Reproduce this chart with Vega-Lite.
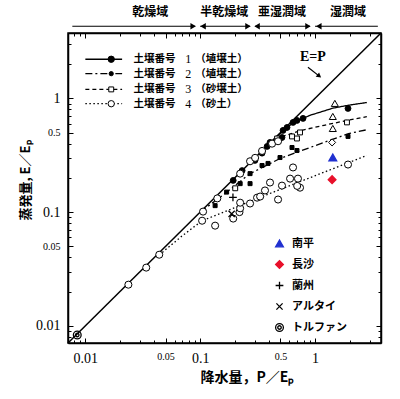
{
  "$schema": "https://vega.github.io/schema/vega-lite/v6.json",
  "width": 313,
  "height": 310,
  "autosize": {"type": "none"},
  "padding": {"left": 68, "top": 33, "right": 19, "bottom": 56},
  "background": "white",
  "config": {
    "view": {"stroke": "black", "strokeWidth": 1.5},
    "axis": {"grid": false, "domainColor": "black", "domainWidth": 1.5, "tickColor": "black", "tickWidth": 1, "labelColor": "black", "titleColor": "black", "labelFont": "Liberation Serif"}
  },
  "datasets": {
    "diag": [{"x": 0.00706, "y": 0.00706}, {"x": 3.76, "y": 3.76}],
    "curves": [
      {"c": "1", "g": "c", "x": 0.45, "y": 0.45}, {"c": "1", "g": "c", "x": 0.644, "y": 0.61}, {"c": "1", "g": "c", "x": 0.905, "y": 0.71}, {"c": "1", "g": "c", "x": 1.43, "y": 0.82}, {"c": "1", "g": "c", "x": 1.94, "y": 0.87}, {"c": "1", "g": "c", "x": 2.83, "y": 0.92},
      {"c": "2", "g": "c", "x": 0.1, "y": 0.1}, {"c": "2", "g": "c", "x": 0.165, "y": 0.146}, {"c": "2", "g": "c", "x": 0.272, "y": 0.218}, {"c": "2", "g": "c", "x": 0.496, "y": 0.296}, {"c": "2", "g": "c", "x": 0.905, "y": 0.37}, {"c": "2", "g": "c", "x": 1.96, "y": 0.49}, {"c": "2", "g": "c", "x": 2.83, "y": 0.53},
      {"c": "3", "g": "c", "x": 0.45, "y": 0.44}, {"c": "3", "g": "c", "x": 0.74, "y": 0.52}, {"c": "3", "g": "c", "x": 1.2, "y": 0.58}, {"c": "3", "g": "c", "x": 1.9, "y": 0.64}, {"c": "3", "g": "c", "x": 2.83, "y": 0.69},
      {"c": "4", "g": "c", "x": 0.044, "y": 0.042}, {"c": "4", "g": "c", "x": 0.07, "y": 0.062}, {"c": "4", "g": "c", "x": 0.104, "y": 0.084}, {"c": "4", "g": "c", "x": 0.527, "y": 0.162}, {"c": "4", "g": "c", "x": 2.83, "y": 0.315},
      {"c": "1", "g": "l", "x": 0.01, "y": 2.21}, {"c": "1", "g": "l", "x": 0.0209, "y": 2.21},
      {"c": "2", "g": "l", "x": 0.01, "y": 1.65}, {"c": "2", "g": "l", "x": 0.0209, "y": 1.65},
      {"c": "3", "g": "l", "x": 0.01, "y": 1.2}, {"c": "3", "g": "l", "x": 0.0209, "y": 1.2},
      {"c": "4", "g": "l", "x": 0.01, "y": 0.898}, {"c": "4", "g": "l", "x": 0.0209, "y": 0.898}
    ],
    "pts": [
      {"s": "1", "x": 0.194, "y": 0.19}, {"s": "1", "x": 0.232, "y": 0.232}, {"s": "1", "x": 0.3, "y": 0.285}, {"s": "1", "x": 0.346, "y": 0.33}, {"s": "1", "x": 0.383, "y": 0.378}, {"s": "1", "x": 0.406, "y": 0.41}, {"s": "1", "x": 0.516, "y": 0.453}, {"s": "1", "x": 0.527, "y": 0.523}, {"s": "1", "x": 0.571, "y": 0.555}, {"s": "1", "x": 0.644, "y": 0.615}, {"s": "1", "x": 0.697, "y": 0.64}, {"s": "1", "x": 0.787, "y": 0.667}, {"s": "1", "x": 1.94, "y": 0.816},
      {"s": "2", "x": 0.135, "y": 0.114}, {"s": "2", "x": 0.17, "y": 0.15}, {"s": "2", "x": 0.223, "y": 0.178}, {"s": "2", "x": 0.272, "y": 0.178}, {"s": "2", "x": 0.272, "y": 0.218}, {"s": "2", "x": 0.346, "y": 0.257}, {"s": "2", "x": 0.39, "y": 0.268}, {"s": "2", "x": 0.496, "y": 0.302}, {"s": "2", "x": 0.631, "y": 0.37}, {"s": "2", "x": 0.697, "y": 0.348}, {"s": "2", "x": 1.94, "y": 0.463},
      {"s": "3", "x": 0.202, "y": 0.162}, {"s": "3", "x": 0.468, "y": 0.444}, {"s": "3", "x": 0.631, "y": 0.463}, {"s": "3", "x": 0.697, "y": 0.444}, {"s": "3", "x": 0.741, "y": 0.502}, {"s": "3", "x": 1.9, "y": 0.615},
      {"s": "4", "x": 0.0237, "y": 0.023}, {"s": "4", "x": 0.0339, "y": 0.0325}, {"s": "4", "x": 0.044, "y": 0.0422}, {"s": "4", "x": 0.106, "y": 0.101}, {"s": "4", "x": 0.141, "y": 0.132}, {"s": "4", "x": 0.223, "y": 0.218}, {"s": "4", "x": 0.272, "y": 0.28}, {"s": "4", "x": 0.301, "y": 0.3}, {"s": "4", "x": 0.346, "y": 0.345}, {"s": "4", "x": 0.423, "y": 0.4}, {"s": "4", "x": 0.477, "y": 0.42},
      {"s": "4", "x": 0.104, "y": 0.084}, {"s": "4", "x": 0.135, "y": 0.076}, {"s": "4", "x": 0.194, "y": 0.0877}, {"s": "4", "x": 0.22, "y": 0.1}, {"s": "4", "x": 0.223, "y": 0.108}, {"s": "4", "x": 0.223, "y": 0.121}, {"s": "4", "x": 0.272, "y": 0.119}, {"s": "4", "x": 0.313, "y": 0.134}, {"s": "4", "x": 0.333, "y": 0.137}, {"s": "4", "x": 0.367, "y": 0.155}, {"s": "4", "x": 0.406, "y": 0.182}, {"s": "4", "x": 0.477, "y": 0.129}, {"s": "4", "x": 0.516, "y": 0.171}, {"s": "4", "x": 0.607, "y": 0.197}, {"s": "4", "x": 0.644, "y": 0.247}, {"s": "4", "x": 0.711, "y": 0.197}, {"s": "4", "x": 0.741, "y": 0.164}, {"s": "4", "x": 0.7, "y": 0.17}, {"s": "4", "x": 1.94, "y": 0.262},
      {"s": "tri", "x": 1.49, "y": 0.904}, {"s": "tri", "x": 1.43, "y": 0.694}, {"s": "tri", "x": 1.43, "y": 0.544}, {"s": "dia", "x": 1.41, "y": 0.41}
    ],
    "legm": [
      {"s": "1", "x": 0.0168, "y": 2.21}, {"s": "2", "x": 0.0168, "y": 1.65}, {"s": "3", "x": 0.0168, "y": 1.2}, {"s": "4", "x": 0.0168, "y": 0.898}
    ],
    "sites": [
      {"site": "南平", "x": 1.43, "y": 0.302}, {"site": "長沙", "x": 1.41, "y": 0.193}, {"site": "蘭州", "x": 0.193, "y": 0.135}, {"site": "アルタイ", "x": 0.188, "y": 0.0965}, {"site": "トルファン", "x": 0.0085, "y": 0.0083}
    ],
    "ann": [
      {"k": "soil", "t": "土壌番号", "x": 0.0263, "y": 2.21}, {"k": "soil", "t": "土壌番号", "x": 0.0263, "y": 1.65}, {"k": "soil", "t": "土壌番号", "x": 0.0263, "y": 1.2}, {"k": "soil", "t": "土壌番号", "x": 0.0263, "y": 0.898},
      {"k": "num", "t": "1", "x": 0.0741, "y": 2.21}, {"k": "num", "t": "2", "x": 0.0741, "y": 1.65}, {"k": "num", "t": "3", "x": 0.0741, "y": 1.2}, {"k": "num", "t": "4", "x": 0.0741, "y": 0.898},
      {"k": "paren", "t": "（埴壌土）", "x": 0.0905, "y": 2.21}, {"k": "paren", "t": "（埴壌土）", "x": 0.0905, "y": 1.65}, {"k": "paren", "t": "（砂壌土）", "x": 0.0905, "y": 1.2}, {"k": "paren", "t": "（砂土）", "x": 0.0905, "y": 0.898},
      {"k": "region", "t": "乾燥域", "x": 0.0367, "y": 5.72}, {"k": "region", "t": "半乾燥域", "x": 0.162, "y": 5.72}, {"k": "region", "t": "亜湿潤域", "x": 0.516, "y": 5.72}, {"k": "region", "t": "湿潤域", "x": 1.94, "y": 5.72},
      {"k": "ep", "t": "E=P", "x": 0.96, "y": 2.3}
    ],
    "arr": [
      {"x": 0.0077, "x2": 0.0905, "y": 4.31}, {"x": 0.1, "x2": 0.272, "y": 4.31}, {"x": 0.301, "x2": 0.905, "y": 4.31}, {"x": 1.0, "x2": 3.53, "y": 4.31}
    ],
    "heads": [
      {"d": "r", "x": 0.0869, "y": 4.31}, {"d": "r", "x": 0.261, "y": 4.31}, {"d": "r", "x": 0.869, "y": 4.31},
      {"d": "l", "x": 0.106, "y": 4.31}, {"d": "l", "x": 0.313, "y": 4.31}, {"d": "l", "x": 1.08, "y": 4.31}
    ],
    "eparr": [{"x": 0.869, "y": 1.88}, {"x": 1.09, "y": 1.57}],
    "ephead": [{"x": 1.09, "y": 1.57}]
  },
  "resolve": {
    "scale": {"shape": "independent", "fill": "independent", "size": "independent", "stroke": "independent", "strokeDash": "independent"},
    "axis": {"x": "independent", "y": "independent"}
  },
  "layer": [
    {
      "data": {"name": "diag"},
      "mark": {"type": "line", "color": "black", "strokeWidth": 1.5},
      "encoding": {
        "x": {"field": "x", "type": "quantitative", "scale": {"type": "log", "domain": [0.00706, 3.76], "nice": false, "zero": false},
          "axis": {"orient": "bottom",
            "values": [0.008, 0.009, 0.01, 0.02, 0.03, 0.04, 0.05, 0.06, 0.07, 0.08, 0.09, 0.1, 0.2, 0.3, 0.4, 0.5, 0.6, 0.7, 0.8, 0.9, 1, 2, 3],
            "labelExpr": "datum.value == 0.01 ? '0.01' : datum.value == 0.05 ? '0.05' : datum.value == 0.1 ? '0.1' : datum.value == 0.5 ? '0.5' : datum.value == 1 ? '1' : ''",
            "labelFontSize": {"condition": {"test": "datum.value == 0.05 || datum.value == 0.5", "value": 10}, "value": 14},
            "tickSize": {"condition": {"test": "datum.value == 0.01 || datum.value == 0.05 || datum.value == 0.1 || datum.value == 0.5 || datum.value == 1", "value": -5}, "value": -3},
            "labelPadding": 13, "labelOverlap": false, "labelFlush": false, "labelBound": false,
            "title": "降水量，P／Eₚ", "titleFont": "Noto Sans CJK JP", "titleFontSize": 14, "titleFontWeight": "bold",
            "titleX": 179, "titleY": 27, "titleBaseline": "top", "titleAlign": "center"}},
        "y": {"field": "y", "type": "quantitative", "scale": {"type": "log", "domain": [0.00706, 3.76], "nice": false, "zero": false},
          "axis": {"orient": "left",
            "values": [0.008, 0.009, 0.01, 0.02, 0.03, 0.04, 0.05, 0.06, 0.07, 0.08, 0.09, 0.1, 0.2, 0.3, 0.4, 0.5, 0.6, 0.7, 0.8, 0.9, 1, 2, 3],
            "labelExpr": "datum.value == 0.01 ? '0.01' : datum.value == 0.05 ? '0.05' : datum.value == 0.1 ? '0.1' : datum.value == 0.5 ? '0.5' : datum.value == 1 ? '1' : ''",
            "labelFontSize": {"condition": {"test": "datum.value == 0.05 || datum.value == 0.5", "value": 10}, "value": 14},
            "tickSize": {"condition": {"test": "datum.value == 0.01 || datum.value == 0.05 || datum.value == 0.1 || datum.value == 0.5 || datum.value == 1", "value": -5}, "value": -3},
            "labelPadding": 13, "labelOverlap": false, "labelFlush": false, "labelBound": false,
            "title": "蒸発量, E／Eₚ", "titleFont": "Noto Sans CJK JP", "titleFontSize": 13, "titleFontWeight": "bold",
            "titleAngle": 270, "titleX": -43, "titleY": 147, "titleBaseline": "middle", "titleAlign": "center"}}
      }
    },
    {
      "data": {"name": "diag"},
      "mark": {"type": "point", "opacity": 0},
      "encoding": {
        "x": {"field": "x", "type": "quantitative", "scale": {"type": "log", "domain": [0.00706, 3.76], "nice": false, "zero": false},
          "axis": {"orient": "top", "labels": false, "title": null,
            "values": [0.008, 0.009, 0.01, 0.02, 0.03, 0.04, 0.05, 0.06, 0.07, 0.08, 0.09, 0.1, 0.2, 0.3, 0.4, 0.5, 0.6, 0.7, 0.8, 0.9, 1, 2, 3],
            "tickSize": {"condition": {"test": "datum.value == 0.01 || datum.value == 0.05 || datum.value == 0.1 || datum.value == 0.5 || datum.value == 1", "value": -5}, "value": -3}}},
        "y": {"field": "y", "type": "quantitative", "scale": {"type": "log", "domain": [0.00706, 3.76], "nice": false, "zero": false},
          "axis": {"orient": "right", "labels": false, "title": null,
            "values": [0.008, 0.009, 0.01, 0.02, 0.03, 0.04, 0.05, 0.06, 0.07, 0.08, 0.09, 0.1, 0.2, 0.3, 0.4, 0.5, 0.6, 0.7, 0.8, 0.9, 1, 2, 3],
            "tickSize": {"condition": {"test": "datum.value == 0.01 || datum.value == 0.05 || datum.value == 0.1 || datum.value == 0.5 || datum.value == 1", "value": -5}, "value": -3}}}
      }
    },
    {
      "data": {"name": "curves"},
      "mark": {"type": "line", "color": "black", "strokeWidth": 1.3},
      "encoding": {
        "x": {"field": "x", "type": "quantitative", "axis": null},
        "y": {"field": "y", "type": "quantitative", "axis": null},
        "detail": {"field": "g"},
        "strokeDash": {"field": "c", "type": "nominal", "scale": {"domain": ["1", "2", "3", "4"], "range": [[1, 0], [7, 3, 2, 3], [4, 3], [1.5, 2.5]]}, "legend": null}
      }
    },
    {
      "data": {"name": "pts"},
      "mark": {"type": "point", "filled": true, "stroke": "black", "strokeWidth": 1, "opacity": 1},
      "encoding": {
        "x": {"field": "x", "type": "quantitative", "axis": null},
        "y": {"field": "y", "type": "quantitative", "axis": null},
        "shape": {"field": "s", "type": "nominal", "scale": {"type": "ordinal", "domain": ["1", "2", "3", "4", "tri", "dia"], "range": ["circle", "square", "square", "circle", "triangle-up", "diamond"]}, "legend": null},
        "fill": {"field": "s", "type": "nominal", "scale": {"type": "ordinal", "domain": ["1", "2", "3", "4", "tri", "dia"], "range": ["black", "black", "white", "white", "white", "white"]}, "legend": null},
        "size": {"field": "s", "type": "nominal", "scale": {"type": "ordinal", "domain": ["1", "2", "3", "4", "tri", "dia"], "range": [34, 16, 24, 50, 50, 50]}, "legend": null}
      }
    },
    {
      "data": {"name": "legm"},
      "mark": {"type": "point", "filled": true, "stroke": "black", "strokeWidth": 1, "opacity": 1},
      "encoding": {
        "x": {"field": "x", "type": "quantitative", "axis": null},
        "y": {"field": "y", "type": "quantitative", "axis": null},
        "shape": {"field": "s", "type": "nominal", "scale": {"type": "ordinal", "domain": ["1", "2", "3", "4"], "range": ["circle", "circle", "square", "circle"]}, "legend": null},
        "fill": {"field": "s", "type": "nominal", "scale": {"type": "ordinal", "domain": ["1", "2", "3", "4"], "range": ["black", "black", "white", "white"]}, "legend": null},
        "size": {"field": "s", "type": "nominal", "scale": {"type": "ordinal", "domain": ["1", "2", "3", "4"], "range": [40, 18, 24, 40]}, "legend": null}
      }
    },
    {
      "data": {"name": "sites"},
      "mark": {"type": "point", "filled": true, "size": 60, "strokeWidth": 1.3, "opacity": 1},
      "encoding": {
        "x": {"field": "x", "type": "quantitative", "axis": null},
        "y": {"field": "y", "type": "quantitative", "axis": null},
        "shape": {"field": "site", "type": "nominal", "title": null,
          "scale": {"domain": ["南平", "長沙", "蘭州", "アルタイ", "トルファン"], "range": ["triangle-up", "diamond", "M-1,0H1M0,-1V1", "M-0.8,-0.8L0.8,0.8M-0.8,0.8L0.8,-0.8", "M-1,0A1,1 0 1,0 1,0A1,1 0 1,0 -1,0ZM-0.45,0A0.45,0.45 0 1,0 0.45,0A0.45,0.45 0 1,0 -0.45,0Z"]},
          "legend": {"orient": "none", "legendX": 206, "legendY": 205, "padding": 0, "symbolSize": 60, "symbolStrokeWidth": 1.3, "labelFont": "Noto Sans CJK JP", "labelFontSize": 11, "labelFontWeight": "bold", "labelColor": "black", "labelOffset": 7, "rowPadding": 8}},
        "fill": {"field": "site", "type": "nominal", "title": null,
          "scale": {"domain": ["南平", "長沙", "蘭州", "アルタイ", "トルファン"], "range": ["#2030d0", "#e8102a", "transparent", "transparent", "transparent"]}},
        "stroke": {"field": "site", "type": "nominal", "title": null,
          "scale": {"domain": ["南平", "長沙", "蘭州", "アルタイ", "トルファン"], "range": ["#2030d0", "#e8102a", "black", "black", "black"]}}
      }
    },
    {
      "data": {"name": "arr"},
      "mark": {"type": "rule", "color": "black", "strokeWidth": 1.2},
      "encoding": {
        "x": {"field": "x", "type": "quantitative", "axis": null},
        "x2": {"field": "x2"},
        "y": {"field": "y", "type": "quantitative", "axis": null}
      }
    },
    {
      "data": {"name": "heads"},
      "mark": {"type": "point", "filled": true, "color": "black", "size": 40, "opacity": 1},
      "encoding": {
        "x": {"field": "x", "type": "quantitative", "axis": null},
        "y": {"field": "y", "type": "quantitative", "axis": null},
        "shape": {"field": "d", "type": "nominal", "scale": {"domain": ["r", "l"], "range": ["triangle-right", "triangle-left"]}, "legend": null}
      }
    },
    {
      "data": {"name": "eparr"},
      "mark": {"type": "line", "color": "black", "strokeWidth": 1.2},
      "encoding": {
        "x": {"field": "x", "type": "quantitative", "axis": null},
        "y": {"field": "y", "type": "quantitative", "axis": null}
      }
    },
    {
      "data": {"name": "ephead"},
      "mark": {"type": "point", "shape": "triangle-up", "filled": true, "color": "black", "size": 30, "angle": 128, "opacity": 1},
      "encoding": {
        "x": {"field": "x", "type": "quantitative", "axis": null},
        "y": {"field": "y", "type": "quantitative", "axis": null}
      }
    },
    {
      "data": {"name": "ann"},
      "transform": [{"filter": "datum.k == 'soil' || datum.k == 'paren'"}],
      "mark": {"type": "text", "align": "left", "baseline": "middle", "font": "Noto Sans CJK JP", "fontSize": 10.5, "fontWeight": "bold", "color": "black"},
      "encoding": {
        "x": {"field": "x", "type": "quantitative", "axis": null},
        "y": {"field": "y", "type": "quantitative", "axis": null},
        "text": {"field": "t"}
      }
    },
    {
      "data": {"name": "ann"},
      "transform": [{"filter": "datum.k == 'num'"}],
      "mark": {"type": "text", "align": "left", "baseline": "middle", "font": "Liberation Serif", "fontSize": 12, "color": "black"},
      "encoding": {
        "x": {"field": "x", "type": "quantitative", "axis": null},
        "y": {"field": "y", "type": "quantitative", "axis": null},
        "text": {"field": "t"}
      }
    },
    {
      "data": {"name": "ann"},
      "transform": [{"filter": "datum.k == 'region'"}],
      "mark": {"type": "text", "align": "center", "baseline": "middle", "font": "Noto Sans CJK JP", "fontSize": 12, "fontWeight": "bold", "color": "black"},
      "encoding": {
        "x": {"field": "x", "type": "quantitative", "axis": null},
        "y": {"field": "y", "type": "quantitative", "axis": null},
        "text": {"field": "t"}
      }
    },
    {
      "data": {"name": "ann"},
      "transform": [{"filter": "datum.k == 'ep'"}],
      "mark": {"type": "text", "align": "center", "baseline": "middle", "font": "Liberation Serif", "fontSize": 14, "fontWeight": "bold", "color": "black"},
      "encoding": {
        "x": {"field": "x", "type": "quantitative", "axis": null},
        "y": {"field": "y", "type": "quantitative", "axis": null},
        "text": {"field": "t"}
      }
    }
  ]
}
